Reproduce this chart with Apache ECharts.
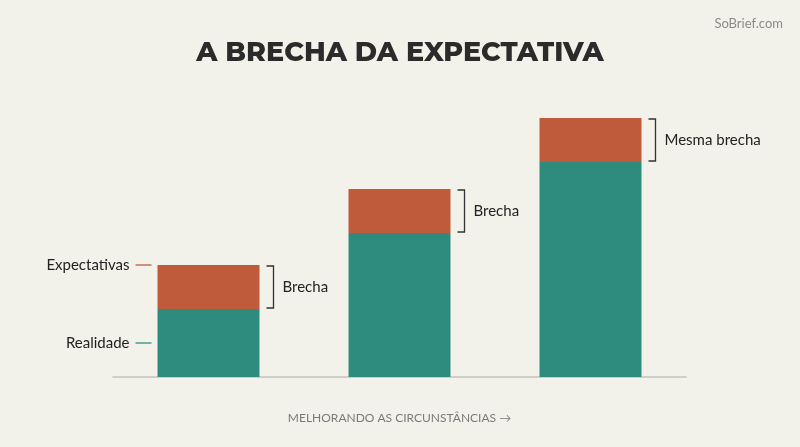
<!DOCTYPE html>
<html><head><meta charset="utf-8">
<script src="https://cdn.jsdelivr.net/npm/echarts@6/dist/echarts.min.js"></script>
<style>html,body{margin:0;padding:0;background:#f3f2ea}#c{width:800px;height:447px}</style>
</head><body><div id="c"></div>
<script>
const categories = ['A', 'B', 'C'];
const realidade = [68, 144, 215];
const brecha = [44, 44, 44];
const gapLabels = ['Brecha', 'Brecha', 'Mesma brecha'];

const chart = echarts.init(document.getElementById('c'));
const font = 'Lato, "Open Sans", sans-serif';
const halfBar = 51;

chart.setOption({
  backgroundColor: '#f3f2ea',
  animation: false,
  title: [{
    text: 'A BRECHA DA EXPECTATIVA', left: 'center', top: 35,
    textStyle: {fontFamily: 'Montserrat, "Open Sans", sans-serif', fontWeight: 800, fontSize: 27, color: '#2b2b2b'}
  }, {
    text: 'SoBrief.com', right: 12, top: 12,
    textStyle: {fontFamily: font, fontWeight: 'normal', fontSize: 13, color: '#8a8a8a'}
  }],
  grid: {left: 113, right: 114, top: 100, bottom: 70},
  xAxis: {
    type: 'category', data: categories,
    axisLine: {lineStyle: {color: '#c4c4bc', width: 1.5}},
    axisTick: {show: false}, axisLabel: {show: false},
    name: 'MELHORANDO AS CIRCUNSTÂNCIAS →', nameLocation: 'middle', nameGap: 35,
    nameTextStyle: {fontFamily: font, fontSize: 12, color: '#7a7a7a'}
  },
  yAxis: {type: 'value', min: 0, max: 277, show: false},
  series: [
    {type: 'bar', stack: 's', data: realidade, barWidth: 102, itemStyle: {color: '#2e8c7f'}},
    {type: 'bar', stack: 's', data: brecha, barWidth: 102, itemStyle: {color: '#bf5a3b'}},
    {
      type: 'custom', z: 10,
      data: categories.map((c, i) => [i, realidade[i], brecha[i]]),
      renderItem: function (params, api) {
        const i = api.value(0), r = api.value(1), g = api.value(2);
        const top = api.coord([i, r + g]), bot = api.coord([i, r]);
        const x = top[0] + halfBar + 7;
        const yt = top[1] + 1, yb = bot[1] - 1;
        const children = [
          {type: 'polyline', shape: {points: [[x, yt], [x + 7, yt], [x + 7, yb], [x, yb]]},
           style: {stroke: '#333', lineWidth: 1.3, fill: null}},
          {type: 'text', style: {text: gapLabels[i], x: x + 16, y: (yt + yb) / 2,
           verticalAlign: 'middle', fontFamily: font, fontSize: 15, fill: '#222'}}
        ];
        if (i === 0) {
          const left = top[0] - halfBar;
          const base = api.coord([i, 0]);
          const ym = (bot[1] + base[1]) / 2 + 0;
          [[top[1], 'Expectativas', '#bf5a3b'], [ym, 'Realidade', '#2e8c7f']].forEach(([y, t, col]) => {
            children.push({type: 'line', shape: {x1: left - 22, y1: y, x2: left - 6, y2: y},
              style: {stroke: col, lineWidth: 1.3}});
            children.push({type: 'text', style: {text: t, x: left - 28, y: y, align: 'right',
              verticalAlign: 'middle', fontFamily: font, fontSize: 15, fill: '#222'}});
          });
        }
        return {type: 'group', children: children};
      }
    }
  ]
});
</script></body></html>
